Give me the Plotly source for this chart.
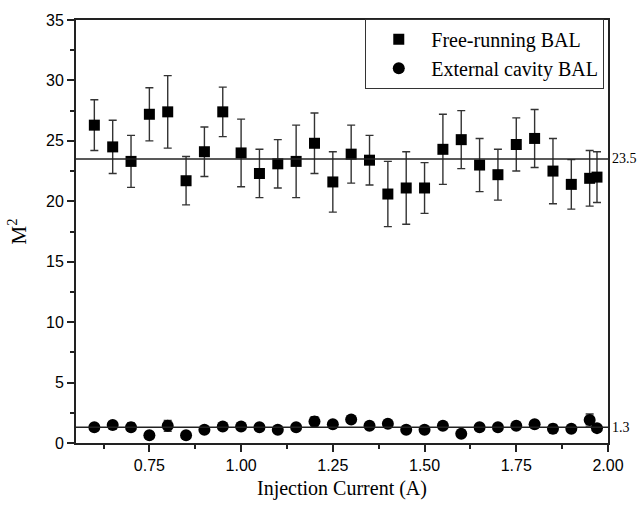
import plotly.graph_objects as go

current = [0.60, 0.65, 0.70, 0.75, 0.80, 0.85, 0.90, 0.95, 1.00, 1.05, 1.10, 1.15, 1.20, 1.25,
           1.30, 1.35, 1.40, 1.45, 1.50, 1.55, 1.60, 1.65, 1.70, 1.75, 1.80, 1.85, 1.90, 1.95, 1.97]
free_m2 = [26.3, 24.5, 23.3, 27.2, 27.4, 21.7, 24.1, 27.4, 24.0, 22.3, 23.1, 23.3, 24.8, 21.6,
           23.9, 23.4, 20.6, 21.1, 21.1, 24.3, 25.1, 23.0, 22.2, 24.7, 25.2, 22.5, 21.4, 21.9, 22.0]
free_err = [2.1, 2.2, 2.15, 2.2, 3.0, 2.0, 2.05, 2.05, 2.8, 2.0, 2.0, 3.0, 2.5, 2.5,
            2.4, 2.05, 2.7, 3.0, 2.1, 2.9, 2.4, 2.2, 2.1, 2.2, 2.4, 2.7, 2.05, 2.3, 2.1]
ext_m2 = [1.31, 1.48, 1.31, 0.65, 1.42, 0.65, 1.10, 1.37, 1.37, 1.31, 1.10, 1.31, 1.78, 1.56,
          1.95, 1.42, 1.59, 1.10, 1.10, 1.42, 0.76, 1.31, 1.31, 1.42, 1.56, 1.18, 1.18, 1.90, 1.23]
ext_err = [0.15, 0.15, 0.35, 0.15, 0.45, 0.15, 0.15, 0.15, 0.15, 0.15, 0.15, 0.15, 0.4, 0.15,
           0.15, 0.15, 0.15, 0.3, 0.15, 0.15, 0.15, 0.15, 0.15, 0.15, 0.15, 0.35, 0.15, 0.5, 0.15]
fit_free = 23.5
fit_ext = 1.3
x_range = [0.55, 2.0]
y_range = [0, 35]

fig = go.Figure()
fig.add_trace(go.Scatter(
    x=current, y=free_m2, mode="markers", name="Free-running BAL",
    marker=dict(symbol="square", size=11, color="black"),
    error_y=dict(type="data", array=free_err, visible=True, color="#333333", thickness=1.4, width=4),
))
fig.add_trace(go.Scatter(
    x=current, y=ext_m2, mode="markers", name="External cavity BAL",
    marker=dict(symbol="circle", size=12, color="black"),
    error_y=dict(type="data", array=ext_err, visible=True, color="#333333", thickness=1.4, width=4),
))

for val in (fit_free, fit_ext):
    fig.add_shape(type="line", xref="paper", x0=0, x1=1, yref="y", y0=val, y1=val,
                  line=dict(color="#222222", width=1.5))
    fig.add_annotation(xref="paper", x=1.0, xanchor="left", xshift=2, yref="y", y=val,
                       text=f"{val}", showarrow=False,
                       font=dict(family="Liberation Serif", size=14, color="black"))

fig.update_layout(
    width=637, height=508,
    margin=dict(l=76, r=29, t=19, b=63),
    paper_bgcolor="white", plot_bgcolor="white",
    showlegend=True,
    legend=dict(x=0.993, y=1.003, xanchor="right", yanchor="top",
                bordercolor="#333333", borderwidth=1, bgcolor="white",
                font=dict(family="Liberation Serif", size=20, color="black"),
                itemwidth=55, tracegroupgap=0),
    xaxis=dict(range=x_range, tickvals=[0.75, 1.0, 1.25, 1.5, 1.75, 2.0],
               ticktext=["0.75", "1.00", "1.25", "1.50", "1.75", "2.00"],
               ticks="outside", ticklen=7, tickwidth=1.5, tickcolor="#222222",
               minor=dict(tickvals=[0.625, 0.875, 1.125, 1.375, 1.625, 1.875],
                          ticks="outside", ticklen=4, tickwidth=1.5, tickcolor="#222222"),
               showline=True, linecolor="#222222", linewidth=2, mirror=True,
               showgrid=False, zeroline=False,
               tickfont=dict(family="Liberation Sans", size=16, color="black"),
               title=dict(text="Injection Current (A)", standoff=8,
                          font=dict(family="Liberation Serif", size=20, color="black"))),
    yaxis=dict(range=y_range, tickvals=[0, 5, 10, 15, 20, 25, 30, 35],
               ticks="outside", ticklen=7, tickwidth=1.5, tickcolor="#222222",
               minor=dict(tickvals=[2.5, 7.5, 12.5, 17.5, 22.5, 27.5, 32.5],
                          ticks="outside", ticklen=4, tickwidth=1.5, tickcolor="#222222"),
               showline=True, linecolor="#222222", linewidth=2, mirror=True,
               showgrid=False, zeroline=False,
               tickfont=dict(family="Liberation Sans", size=16, color="black"),
               title=dict(text="M<sup>2</sup>", standoff=14,
                          font=dict(family="Liberation Serif", size=21, color="black"))),
)

fig.write_html("out.html", config={"displayModeBar": False},
               post_script="document.body.style.margin='0';")
